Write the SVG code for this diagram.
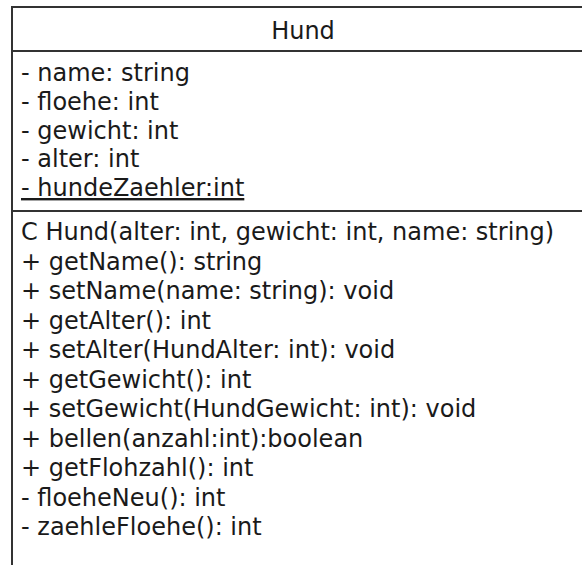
<svg xmlns="http://www.w3.org/2000/svg" width="582" height="565" viewBox="0 0 582 565">
<style>
  .box { fill: #ffffff; stroke: #333333; stroke-width: 2; }
  .sep { stroke: #333333; stroke-width: 2; }
  text { font-family: "DejaVu Sans", Verdana, sans-serif; font-size: 24px; fill: #1a1a1a; }
  .title { text-anchor: middle; }
  .ul { text-decoration: underline; }
</style>
<rect x="0" y="0" width="582" height="565" fill="#ffffff"/>
<g id="class-Hund">
  <rect class="box" x="12" y="7" width="582" height="600"/>
  <line class="sep" x1="12" y1="51" x2="594" y2="51"/>
  <line class="sep" x1="12" y1="211" x2="594" y2="211"/>
  <text class="title" x="303" y="39">Hund</text>
  <g id="attributes">
    <text x="21" y="81">- name: string</text>
    <text x="21" y="110">- floehe: int</text>
    <text x="21" y="139">- gewicht: int</text>
    <text x="21" y="167">- alter: int</text>
    <text class="ul" x="21" y="196">- hundeZaehler:int</text>
  </g>
  <g id="methods">
    <text x="21" y="240">C Hund(alter: int, gewicht: int, name: string)</text>
    <text x="21" y="269.5">+ getName(): string</text>
    <text x="21" y="299">+ setName(name: string): void</text>
    <text x="21" y="328.5">+ getAlter(): int</text>
    <text x="21" y="358">+ setAlter(HundAlter: int): void</text>
    <text x="21" y="387.5">+ getGewicht(): int</text>
    <text x="21" y="417">+ setGewicht(HundGewicht: int): void</text>
    <text x="21" y="446.5">+ bellen(anzahl:int):boolean</text>
    <text x="21" y="476">+ getFlohzahl(): int</text>
    <text x="21" y="505.5">- floeheNeu(): int</text>
    <text x="21" y="535">- zaehleFloehe(): int</text>
  </g>
</g>
<g id="connectors"></g>
</svg>
